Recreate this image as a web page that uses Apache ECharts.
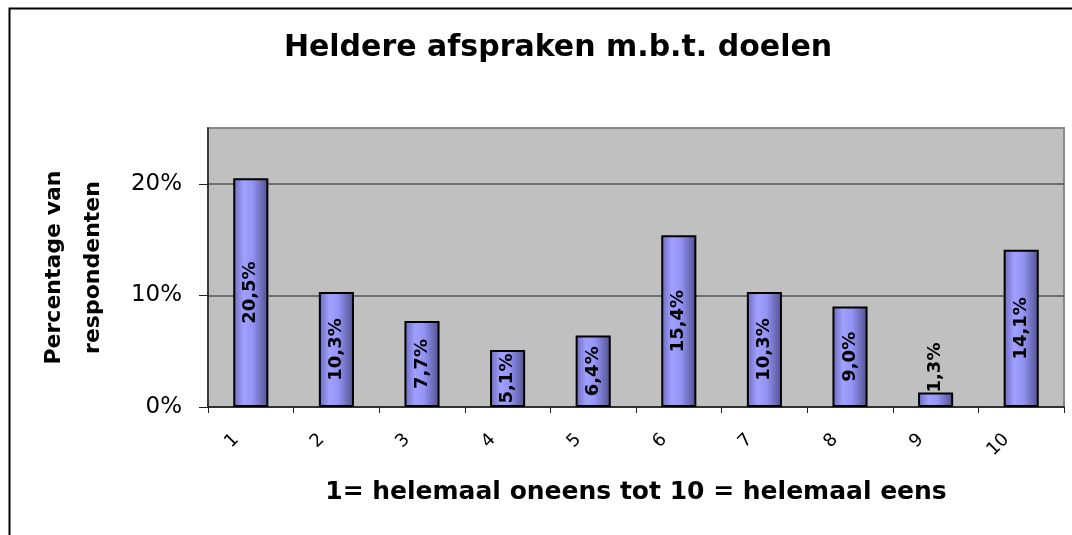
<!DOCTYPE html>
<html>
<head>
<meta charset="utf-8">
<script src="https://cdn.jsdelivr.net/npm/echarts@6/dist/echarts.min.js"></script>
<style>
  html, body { margin: 0; padding: 0; background: #fff; }
  #chart { width: 1072px; height: 535px; }
</style>
</head>
<body>
<div id="chart"></div>
<script>
// score 1..10
const categories = ['1', '2', '3', '4', '5', '6', '7', '8', '9', '10']
// percentage van respondenten
const percentages = [20.5, 10.3, 7.7, 5.1, 6.4, 15.4, 10.3, 9.0, 1.3, 14.1]
const yTicks = [0, 10, 20]

const chart = echarts.init(document.getElementById('chart'))

const barColor = new echarts.graphic.LinearGradient(0, 0, 1, 0, [
  { offset: 0, color: '#6a6ab8' },
  { offset: 0.3, color: '#a0a0ff' },
  { offset: 0.55, color: '#9494f6' },
  { offset: 1, color: '#50508f' }
])

const fmt = v => v.toFixed(1).replace('.', ',') + '%'

const option = {
  animation: false,
  backgroundColor: '#fff',
  graphic: [{
    type: 'rect',
    left: 7, top: 6,
    shape: { width: 1200, height: 700 },
    style: { fill: 'none', stroke: '#000', lineWidth: 2 },
    z: -1
  }],
  title: {
    text: 'Heldere afspraken m.b.t. doelen',
    left: 553, top: 28, textAlign: 'center',
    textStyle: { fontFamily: 'DejaVu Sans', fontWeight: 'bold', fontSize: 30, color: '#000' }
  },
  grid: {
    left: 208, right: 8, top: 128, bottom: 128,
    show: true, backgroundColor: '#c0c0c0', borderColor: '#888', borderWidth: 2
  },
  xAxis: {
    type: 'category',
    data: categories,
    name: '1= helemaal oneens tot 10 = helemaal eens',
    nameLocation: 'middle',
    nameGap: 73,
    nameTextStyle: { fontFamily: 'DejaVu Sans', fontWeight: 'bold', fontSize: 25, color: '#000' },
    axisLine: { lineStyle: { color: '#222', width: 1.5 } },
    axisTick: { show: true, length: 6, lineStyle: { color: '#222' } },
    axisLabel: {
      rotate: 45, margin: 15, padding: [0, 21, 0, 0],
      fontFamily: 'DejaVu Sans', fontSize: 18, color: '#000'
    }
  },
  yAxis: {
    type: 'value',
    min: 0, max: 25, interval: 10,
    name: 'Percentage van\nrespondenten',
    nameLocation: 'middle',
    nameGap: 95,
    nameTextStyle: { fontFamily: 'DejaVu Sans', fontWeight: 'bold', fontSize: 22, color: '#000', lineHeight: 39 },
    axisLine: { show: true, lineStyle: { color: '#222', width: 1.5 } },
    axisTick: { show: true, length: 9, customValues: yTicks, lineStyle: { color: '#222' } },
    axisLabel: {
      margin: 26, fontFamily: 'DejaVu Sans', fontSize: 23, color: '#000',
      customValues: yTicks,
      formatter: v => v + '%'
    },
    splitLine: { lineStyle: { color: '#555', width: 1.5 } }
  },
  series: [{
    type: 'bar',
    data: percentages.map((v, i) => i === 8 ? {
      value: v,
      label: { position: 'top', align: 'left', verticalAlign: 'middle', distance: 0 }
    } : v),
    barWidth: '41%',
    itemStyle: { color: barColor, borderColor: '#000', borderWidth: 2 },
    label: {
      show: true,
      position: 'inside',
      rotate: 90,
      formatter: p => fmt(p.value),
      fontFamily: 'DejaVu Sans',
      fontWeight: 'bold',
      fontSize: 18,
      color: '#000'
    }
  }]
}

chart.setOption(option)
</script>
</body>
</html>
